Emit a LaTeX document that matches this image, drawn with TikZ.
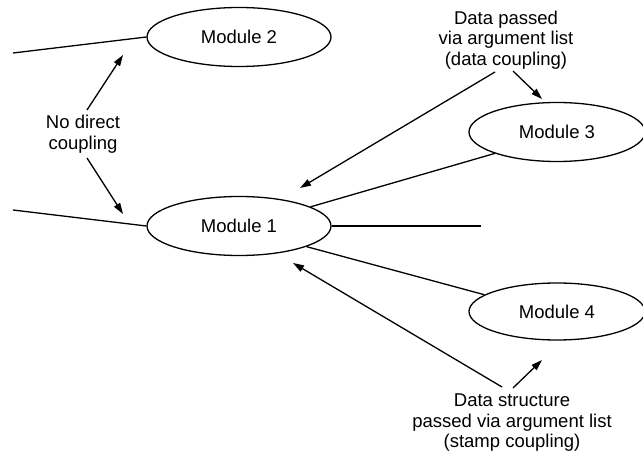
\documentclass[tikz,border=0pt]{standalone}
\usepackage{fontspec}
\setmainfont{Liberation Sans}
\usetikzlibrary{shapes.geometric,arrows.meta}
\begin{document}
\begin{tikzpicture}[x=1pt,y=-1pt,
  mod/.style={draw,ellipse,line width=1.3pt,minimum width=184pt,minimum height=59pt,inner sep=0pt,
    font=\fontsize{18.5pt}{20.5pt}\selectfont},
  lbl/.style={align=center,inner sep=0pt,font=\fontsize{18.5pt}{20.5pt}\selectfont},
  conn/.style={line width=1.3pt},
  arr/.style={line width=1.3pt,-{Triangle[length=11pt,width=7pt]}}]
\useasboundingbox (0,0) rectangle (643,454);
\node[mod] (m2) at (239,37) {Module 2};
\node[mod] (m1) at (239,226) {Module 1};
\node[mod,minimum width=176pt] (m3) at (557,132) {Module 3};
\node[mod,minimum width=176pt,minimum height=57pt] (m4) at (557,311.5) {Module 4};
\node[lbl] (ndc) at (83,134) {No direct\\coupling};
\node[lbl] (dc) at (506,40) {Data passed\\via argument list\\(data coupling)};
\node[lbl] (sc) at (512,423) {Data structure\\passed via argument list\\(stamp coupling)};
\coordinate (l2) at (13,53);
\coordinate (l1) at (13,210);
\coordinate (r1) at (481,226);
\draw[conn] (l2) -- (m2.west);
\draw[conn] (l1) -- (m1.west);
\draw[conn] (m1.east) -- (r1);
\draw[conn] (m1.15) -- (m3.199);
\draw[conn] (m1.343) -- (m4.167);
\coordinate (a1s) at (87,110); \coordinate (a1e) at (123,55);
\coordinate (a2s) at (87,158); \coordinate (a2e) at (123,214);
\coordinate (a3s) at (495,72); \coordinate (a3e) at (300,188);
\coordinate (a4s) at (513,71); \coordinate (a4e) at (542,99);
\coordinate (a5s) at (502,387); \coordinate (a5e) at (293,263);
\coordinate (a6s) at (513,388); \coordinate (a6e) at (542,360);
\draw[arr] (a1s) -- (a1e);
\draw[arr] (a2s) -- (a2e);
\draw[arr] (a3s) -- (a3e);
\draw[arr] (a4s) -- (a4e);
\draw[arr] (a5s) -- (a5e);
\draw[arr] (a6s) -- (a6e);
\end{tikzpicture}
\end{document}
